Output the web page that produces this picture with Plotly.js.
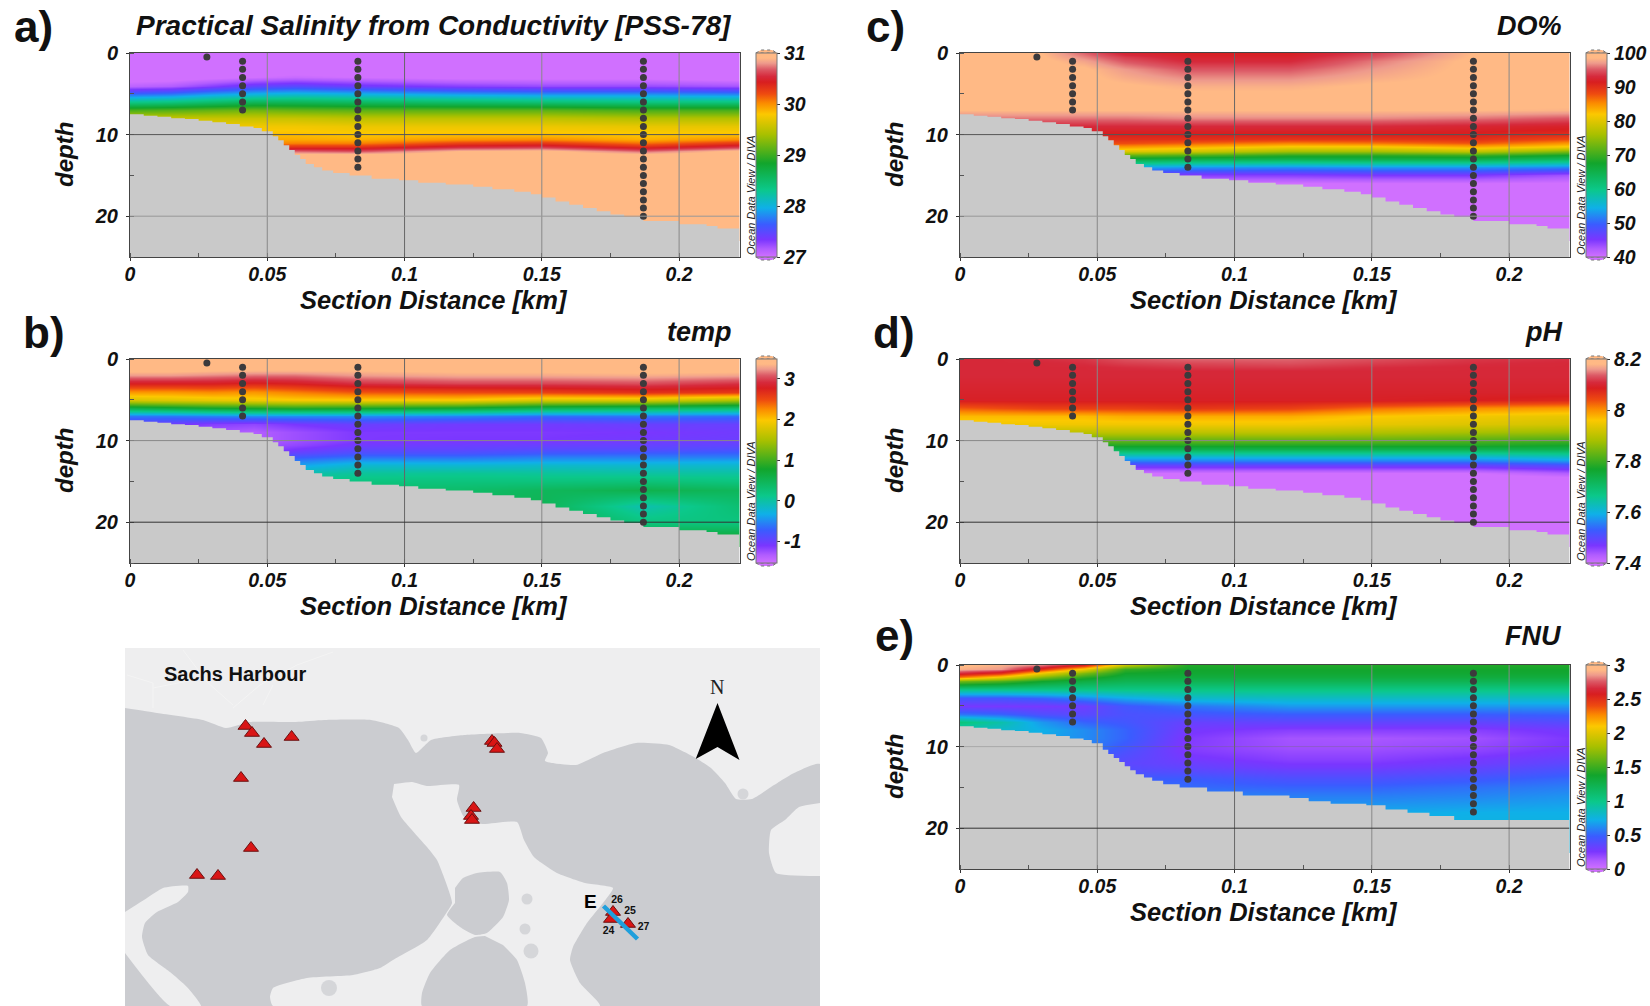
<!DOCTYPE html>
<html><head><meta charset="utf-8">
<script src="https://cdn.plot.ly/plotly-3.0.1.min.js"></script>
<style>html,body{margin:0;padding:0;background:#fff}#chart{width:1650px;height:1006px}</style>
</head><body><div id="chart"></div>
<script>
const distances=[0,0.015,0.03,0.045,0.06,0.083,0.12,0.15,0.187,0.222];
const depths=[0,0.5,1,1.5,2,3,4,5,6,7,8,9,10,10.5,11,11.5,12,12.5,13,14,15,16,18,20,22];
const salinity=[
[26.9,26.9,26.9,26.9,26.9,26.9,26.9,26.9,26.9,26.9],
[26.9,26.9,26.9,26.9,26.9,26.9,26.9,26.9,26.9,26.9],
[26.9,26.9,26.9,26.9,26.9,26.9,26.9,26.9,26.9,26.9],
[26.9,26.9,26.9,26.9,26.9,26.9,26.9,26.9,26.9,26.9],
[26.9,26.9,26.9,26.9,26.9,26.9,26.9,26.9,26.9,26.9],
[26.9,26.9,26.95,27,27.05,27,26.95,26.95,26.95,26.9],
[27.1,27.15,27.3,27.45,27.5,27.4,27.3,27.25,27.25,27.2],
[27.7,27.75,27.9,28,28.05,28,27.9,27.85,27.85,27.8],
[28.35,28.4,28.5,28.6,28.6,28.55,28.5,28.45,28.4,28.4],
[29.05,29.1,29.15,29.2,29.15,29.12,29.12,29.12,29.05,29.05],
[29.55,29.55,29.55,29.55,29.55,29.5,29.5,29.5,29.45,29.45],
[29.75,29.75,29.75,29.75,29.75,29.72,29.72,29.72,29.7,29.7],
[29.85,29.85,29.85,29.85,29.85,29.82,29.85,29.85,29.82,29.85],
[29.92,29.92,29.92,29.92,29.9,29.88,29.97,30,29.88,30],
[30,30,30,30,30.05,30.05,30.25,30.3,30.1,30.3],
[30.3,30.3,30.3,30.3,30.35,30.35,30.55,30.6,30.38,30.6],
[30.7,30.7,30.7,30.7,30.7,30.65,30.9,30.95,30.7,30.95],
[30.98,30.98,30.98,30.98,30.98,30.98,31,31,30.98,31],
[31.1,31.1,31.1,31.1,31.1,31.1,31.1,31.1,31.1,31.1],
[31.1,31.1,31.1,31.1,31.1,31.1,31.1,31.1,31.1,31.1],
[31.1,31.1,31.1,31.1,31.1,31.1,31.1,31.1,31.1,31.1],
[31.1,31.1,31.1,31.1,31.1,31.1,31.1,31.1,31.1,31.1],
[31.1,31.1,31.1,31.1,31.1,31.1,31.1,31.1,31.1,31.1],
[31.1,31.1,31.1,31.1,31.1,31.1,31.1,31.1,31.1,31.1],
[31.1,31.1,31.1,31.1,31.1,31.1,31.1,31.1,31.1,31.1]];
const temp=[
[3.45,3.45,3.45,3.45,3.45,3.45,3.45,3.45,3.45,3.45],
[3.45,3.45,3.45,3.45,3.45,3.45,3.45,3.45,3.45,3.45],
[3.42,3.42,3.42,3.42,3.42,3.4,3.42,3.42,3.42,3.42],
[3.38,3.38,3.35,3.33,3.33,3.35,3.38,3.38,3.4,3.38],
[3.25,3.25,3.2,3.15,3.15,3.25,3.3,3.3,3.32,3.28],
[2.8,2.8,2.8,2.75,2.8,2.95,3.02,3.02,3.05,2.95],
[2.2,2.2,2.25,2.2,2.3,2.45,2.5,2.55,2.65,2.6],
[1.75,1.8,1.85,1.9,1.95,1.95,1.95,1.75,1.75,1.5],
[0.55,0.65,0.75,0.8,0.85,0.8,0.7,0.5,0.4,0.3],
[-0.6,-0.6,-0.55,-0.5,-0.5,-0.5,-0.55,-0.65,-0.6,-0.65],
[-1,-1.05,-1.15,-1.2,-1.1,-1,-1.05,-1.05,-1,-1],
[-1.15,-1.2,-1.3,-1.35,-1.25,-1.12,-1.12,-1.12,-1.1,-1.05],
[-1.15,-1.2,-1.3,-1.35,-1.25,-1.12,-1.1,-1.1,-1.05,-1.02],
[-1.15,-1.15,-1.25,-1.3,-1.2,-1.05,-1.02,-1,-0.98,-0.95],
[-1.1,-1.1,-1.2,-1.25,-1.1,-0.95,-0.95,-0.9,-0.9,-0.85],
[-1,-1,-1.1,-1.15,-0.95,-0.82,-0.82,-0.75,-0.72,-0.7],
[-0.9,-0.9,-1,-1,-0.75,-0.62,-0.62,-0.55,-0.55,-0.55],
[-0.8,-0.8,-0.9,-0.9,-0.55,-0.4,-0.42,-0.38,-0.38,-0.35],
[-0.7,-0.7,-0.7,-0.7,-0.4,-0.2,-0.22,-0.18,-0.2,-0.2],
[-0.3,-0.3,-0.3,-0.3,-0.05,0.05,0.08,0.05,0.02,0.02],
[0.1,0.1,0.1,0.1,0.15,0.2,0.22,0.22,0.25,0.2],
[0.4,0.4,0.4,0.4,0.4,0.35,0.35,0.45,0.55,0.45],
[0.5,0.5,0.5,0.5,0.5,0.5,0.5,0.5,-0.05,0.3],
[0.5,0.5,0.5,0.5,0.5,0.5,0.6,0.6,0.2,0.2],
[0.7,0.7,0.7,0.7,0.7,0.7,0.7,0.7,0.75,0.75]];
const oxygen=[
[99,99,98.5,95.5,92.5,91.5,91.5,94,98.5,99],
[99,99,98.7,96.5,94,92.3,92.3,95,98.7,99],
[99,99,99,97.5,95,93,93,96,99,99],
[99,99,99,98.2,96,94,94,96.5,99,99],
[99,99,99,98.8,97,95,95,97,99,99],
[99,99,99,99,97.8,96.5,96.5,97.8,99,99],
[99,99,99,99,98.8,98,98,98.8,99,99],
[99,99,99,99,99,98.8,98.8,99,99,99],
[99,99,99,99,99,99,99,99,99,99],
[98.5,98.5,98.5,98.5,98.5,98.5,98.5,98.5,98.5,98.2],
[96,96,96,96,96,96.5,96.5,96.5,96,95],
[93,93,93,93,93,93,93,93,92.5,92],
[91,91,91,91,91,91,91,91,91,90],
[90,90,90,90,90,90,89.5,89.5,90,88],
[88,88,88,88,88,87,85.5,86,87.5,84.5],
[84,84,84,84,84,83,81,81,83,81],
[80,80,80,80,80,79,76,76,78,74],
[72,72,72,72,72,71,69,69,70,67.5],
[66,66,66,66,66,65,64.5,65,65,63],
[54,54,54,54,54,53,52.5,53,53,52],
[45,45,45,45,45,44.5,44.5,45,45,43],
[39.5,39.5,39.5,39.5,39.5,39.5,39.5,39.5,39.5,39.5],
[39,39,39,39,39,39,39,39,39,39],
[39,39,39,39,39,39,39,39,39,39],
[39,39,39,39,39,39,39,39,39,39]];
const ph=[
[8.105,8.105,8.11,8.115,8.13,8.14,8.14,8.13,8.115,8.11],
[8.105,8.105,8.105,8.11,8.12,8.125,8.13,8.12,8.11,8.105],
[8.105,8.105,8.105,8.105,8.11,8.115,8.118,8.11,8.105,8.105],
[8.105,8.105,8.105,8.105,8.105,8.105,8.105,8.105,8.105,8.105],
[8.105,8.105,8.105,8.105,8.105,8.105,8.105,8.105,8.105,8.105],
[8.1,8.1,8.1,8.1,8.1,8.1,8.1,8.1,8.1,8.1],
[8.095,8.095,8.095,8.095,8.095,8.095,8.095,8.095,8.095,8.095],
[8.09,8.09,8.09,8.09,8.09,8.09,8.09,8.09,8.085,8.075],
[8.03,8.04,8.05,8.05,8.05,8.06,8.05,8.02,8,7.99],
[7.97,7.97,7.97,7.97,7.98,7.98,7.98,7.96,7.95,7.94],
[7.95,7.95,7.95,7.95,7.95,7.95,7.95,7.94,7.93,7.92],
[7.9,7.9,7.9,7.9,7.9,7.9,7.9,7.89,7.88,7.87],
[7.82,7.82,7.82,7.82,7.82,7.82,7.82,7.82,7.81,7.8],
[7.78,7.78,7.78,7.78,7.78,7.78,7.78,7.78,7.78,7.77],
[7.73,7.73,7.73,7.73,7.73,7.73,7.73,7.73,7.73,7.73],
[7.66,7.66,7.66,7.66,7.66,7.66,7.66,7.66,7.66,7.67],
[7.6,7.6,7.6,7.6,7.6,7.6,7.6,7.6,7.6,7.62],
[7.55,7.55,7.55,7.55,7.55,7.55,7.55,7.55,7.55,7.57],
[7.49,7.49,7.49,7.49,7.49,7.49,7.49,7.49,7.49,7.51],
[7.4,7.4,7.4,7.4,7.4,7.4,7.4,7.4,7.4,7.43],
[7.37,7.37,7.37,7.37,7.37,7.37,7.37,7.37,7.37,7.37],
[7.37,7.37,7.37,7.37,7.37,7.37,7.37,7.37,7.37,7.37],
[7.37,7.37,7.37,7.37,7.37,7.37,7.37,7.37,7.37,7.37],
[7.37,7.37,7.37,7.37,7.37,7.37,7.37,7.37,7.37,7.37],
[7.37,7.37,7.37,7.37,7.37,7.37,7.37,7.37,7.37,7.37]];
const turbidity=[
[2.95,2.9,2.8,2.55,1.9,1.42,1.42,1.42,1.42,1.42],
[2.9,2.85,2.5,2.05,1.48,1.38,1.38,1.38,1.38,1.38],
[2.65,2.5,2.05,1.68,1.38,1.35,1.35,1.35,1.35,1.35],
[2.3,2.05,1.7,1.45,1.3,1.3,1.3,1.3,1.3,1.3],
[1.65,1.55,1.38,1.28,1.22,1.22,1.22,1.22,1.22,1.22],
[1.02,1.02,1.02,1.02,1.02,1.02,1.02,1.02,1.02,1.02],
[0.45,0.45,0.5,0.6,0.7,0.8,0.82,0.82,0.82,0.82],
[0.27,0.27,0.27,0.3,0.45,0.55,0.65,0.65,0.65,0.65],
[0.55,0.5,0.4,0.36,0.42,0.44,0.48,0.48,0.48,0.5],
[1.05,0.9,0.65,0.5,0.45,0.32,0.34,0.34,0.34,0.38],
[0.85,0.8,0.72,0.62,0.5,0.27,0.22,0.22,0.22,0.28],
[0.8,0.8,0.7,0.62,0.5,0.24,0.15,0.14,0.16,0.25],
[0.8,0.8,0.65,0.6,0.45,0.23,0.16,0.16,0.19,0.26],
[0.75,0.75,0.62,0.55,0.42,0.24,0.18,0.18,0.21,0.28],
[0.7,0.7,0.6,0.5,0.4,0.26,0.2,0.2,0.24,0.3],
[0.6,0.6,0.55,0.45,0.38,0.28,0.22,0.22,0.27,0.33],
[0.55,0.55,0.5,0.42,0.36,0.31,0.25,0.25,0.29,0.36],
[0.5,0.5,0.48,0.42,0.38,0.34,0.28,0.28,0.33,0.4],
[0.5,0.5,0.48,0.45,0.4,0.38,0.33,0.33,0.37,0.44],
[0.5,0.5,0.5,0.5,0.48,0.48,0.42,0.42,0.46,0.52],
[0.55,0.55,0.55,0.55,0.55,0.52,0.5,0.5,0.54,0.58],
[0.6,0.6,0.6,0.6,0.6,0.6,0.58,0.58,0.6,0.64],
[0.7,0.7,0.7,0.7,0.7,0.7,0.7,0.7,0.72,0.72],
[0.75,0.75,0.75,0.75,0.75,0.75,0.75,0.75,0.75,0.75],
[0.75,0.75,0.75,0.75,0.75,0.75,0.75,0.75,0.75,0.75]];

const seabedX=[0,.005,.01,.015,.02,.025,.03,.035,.04,.045,.048,.052,.054,.056,.058,.06,.062,.064,.067,.07,.074,.08,.088,.098,.105,.115,.125,.132,.14,.146,.15,.155,.16,.165,.17,.175,.18,.187,.2,.21,.214,.222];
const seabedZ=[7.5,7.7,7.8,8,8.1,8.3,8.5,8.7,9,9.2,9.6,10.2,10.7,11.3,11.9,12.5,13,13.6,14,14.4,14.7,15,15.4,15.6,15.9,16.1,16.4,16.7,17,17.3,17.7,18.2,18.6,19,19.4,19.8,20.1,20.6,21,21.2,21.5,21.5];
const seabedFnuX=[0,.005,.01,.015,.02,.025,.03,.035,.04,.045,.048,.052,.054,.056,.058,.06,.062,.064,.067,.07,.074,.08,.09,.103,.12,.127,.135,.148,.155,.163,.171,.18,.222];
const seabedFnuZ=[7.5,7.7,7.8,8,8.1,8.3,8.5,8.7,9,9.2,9.6,10.4,10.9,11.4,11.9,12.4,12.9,13.4,13.8,14.2,14.6,15,15.5,16,16.3,16.7,17,17.2,17.7,18.1,18.5,19,19];

const stationX=[0.028,0.041,0.041,0.041,0.041,0.041,0.041,0.041,0.083,0.083,0.083,0.083,0.083,0.083,0.083,0.083,0.083,0.083,0.083,0.083,0.083,0.083,0.187,0.187,0.187,0.187,0.187,0.187,0.187,0.187,0.187,0.187,0.187,0.187,0.187,0.187,0.187,0.187,0.187,0.187];
const stationZ=[0.5,1,2,3,4,5,6,7,1,2,3,4,5,6,7,8,9,10,11,12,13,14,1,2,3,4,5,6,7,8,9,10,11,12,13,14,15,16,17,18];
const stationDeepX=[0.187,0.187];
const stationDeepZ=[19,20];

const rainbow=[[0,'#d070ff'],[0.04,'#b05cff'],[0.085,'#7a36ff'],[0.16,'#3a5cff'],[0.24,'#0fb0e8'],[0.33,'#0bc88a'],[0.46,'#12a52c'],[0.6,'#a8c000'],[0.7,'#fcc800'],[0.755,'#fb8a00'],[0.8,'#ee4a10'],[0.857,'#d81e20'],[0.885,'#d62a3c'],[0.92,'#dc5a66'],[0.95,'#ee9a8c'],[0.975,'#ffb985'],[1,'#ffb985']];

const panels=[
 {z:salinity,zmin:27,zmax:31,ticks:[27,28,29,30,31],left:130,top:53,label:'a)',lx:12,ly:27,title:'Practical Salinity from Conductivity [PSS-78]',tx:734,ty:26,deep:true,sx:seabedX,sz:seabedZ,grid:{10:'#555',20:'#999'}},
 {z:temp,zmin:-1.53,zmax:3.49,ticks:[-1,0,1,2,3],left:130,top:359,label:'b)',lx:21,ly:333,title:'temp',tx:734,ty:332,deep:true,sx:seabedX,sz:seabedZ,grid:{10:'#888',20:'#333'}},
 {z:oxygen,zmin:40,zmax:100,ticks:[40,50,60,70,80,90,100],left:960,top:53,label:'c)',lx:864,ly:27,title:'DO%',tx:1564,ty:26,deep:true,sx:seabedX,sz:seabedZ,grid:{10:'#555',20:'#999'}},
 {z:ph,zmin:7.4,zmax:8.2,ticks:[7.4,7.6,7.8,8,8.2],left:960,top:359,label:'d)',lx:871,ly:333,title:'pH',tx:1564,ty:332,deep:true,sx:seabedX,sz:seabedZ,grid:{10:'#888',20:'#333'}},
 {z:turbidity,zmin:0,zmax:3,ticks:[0,0.5,1,1.5,2,2.5,3],left:960,top:665,label:'e)',lx:873,ly:635,title:'FNU',tx:1564,ty:636,deep:false,sx:seabedFnuX,sz:seabedFnuZ,grid:{10:'rgba(110,110,110,0.35)',20:'#333'}}
];
const W=1650,H=1006,PW=609.5,PH=204;
const FONT='"Liberation Sans", Arial, sans-serif';
const bi=(s,c)=>({family:FONT,size:s,color:c||'#111',weight:'bold',style:'italic'});

const mapGrayX=[125,157,203,226,250,296,324,371,399,408,416,431,464,520,541,548,545,576,603,636,669,694,711,725,736,752,771,794,820,820,125];
const mapGrayY=[708,713,720,728,722,722,720,720,728,740,753,740,735,733,738,753,761,765,753,743,745,757,768,783,799,799,787,773,764,1006,1006];
const channelX=[394,412,427,459,457,464,482,517,524,534,557,585,613,603,587,573,570,580,600,273,270,273,307,353,380,393,427,445,452,445,437,427,401,392];
const channelY=[784,782,786,785,800,817,824,822,840,857,873,883,888,903,923,947,960,983,1006,1006,997,988,978,975,968,960,940,915,903,880,860,847,817,797];
const inletX=[125,147,163,188,188,178,157,145,142,148,170,187,201,170,125];
const inletY=[912,898,888,886,892,902,912,923,937,955,972,987,1006,1006,953];
const bayX=[820,799,785,771,769,776,820];
const bayY=[803,807,820,830,853,873,876];
const island1X=[455,463,477,500,507,509,503,487,475,460,447,455];
const island1Y=[888,878,873,872,883,900,917,933,935,927,915,903];
const island2X=[485,475,450,430,422,422,527,525,517,503];
const island2Y=[936,937,950,973,993,1006,1006,983,960,945];
const blobX=[527,525,531,329,743,424];
const blobY=[899,929,951,988,794,738];
const blobSize=[11,11,15,16,11,7];
const roadX=[[127,153,153],[153,203],[183,207,233],[233,260,297,333],[263,273]];
const roadY=[[675,683,708],[688,678],[650,682,705],[708,685,665,652],[705,685]];
const siteX=[245.5,252,264,291.6,241,251,197,218,492,494.5,497,473.6,471,472,613,611,628];
const siteY=[726,733,744,737,778,848,875,876,741,743,749,808,816,820,912,919,924];
const transectX=[603.5,637.5];
const transectY=[906,939];
const arrowX=[717.5,739.5,717.5,695.7,717.5];
const arrowY=[703,760,747,759,703];
const stationNames=['26','25','27','24'];
const nameX=[617,630,643.5,608.6];
const nameY=[900.7,911,927,931];

const traces=[],shapes=[],annotations=[],layout={};
panels.forEach((p,i)=>{
  const n=i+1,xa='x'+n,ya='y'+n;
  traces.push({type:'heatmap',x:distances,y:depths,z:p.z,xaxis:xa,yaxis:ya,zmin:p.zmin,zmax:p.zmax,zsmooth:'best',colorscale:rainbow,hoverinfo:'skip',
    colorbar:{xref:'container',yref:'container',x:(p.left+626)/W,xanchor:'left',y:1-(p.top+PH/2)/H,yanchor:'middle',lenmode:'pixels',len:PH,thicknessmode:'pixels',thickness:21,xpad:0,ypad:0,
      outlinecolor:'#777',outlinewidth:1,tickmode:'array',tickvals:p.ticks,ticktext:p.ticks.map(String),ticks:'outside',ticklen:3,tickcolor:'#333',tickfont:bi(19.5),borderwidth:0}});
  traces.push({type:'scatter',mode:'lines',x:p.sx.concat([0.222,0]),y:p.sz.concat([25,25]),xaxis:xa,yaxis:ya,line:{shape:'hv',width:0},fill:'toself',fillcolor:'#c9c9c9',hoverinfo:'skip',showlegend:false});
  traces.push({type:'scatter',mode:'markers',x:p.deep?stationX.concat(stationDeepX):stationX,y:p.deep?stationZ.concat(stationDeepZ):stationZ,xaxis:xa,yaxis:ya,marker:{size:7,color:'#3c3a3c'},showlegend:false});
  layout['xaxis'+(n>1?n:'')]={anchor:ya,domain:[p.left/W,(p.left+PW)/W],range:[0,0.222],tickmode:'array',tickvals:[0,0.05,0.1,0.15,0.2],ticktext:['0','0.05','0.1','0.15','0.2'],ticks:'outside',ticklen:3,tickcolor:'#333',
    tickfont:bi(19.5),ticklabelstandoff:-3,showgrid:false,zeroline:false,showline:true,mirror:true,linecolor:'#444',linewidth:1,layer:'above traces',minor:{ticks:'inside',ticklen:4,tickcolor:'#555',dtick:0.025,tick0:0,showgrid:false}};
  layout['yaxis'+(n>1?n:'')]={anchor:xa,domain:[1-(p.top+PH)/H,1-p.top/H],range:[25,0],tickmode:'array',tickvals:[0,10,20],ticktext:['0','10','20'],ticks:'outside',ticklen:3,tickcolor:'#333',
    tickfont:bi(20),ticklabelstandoff:4,showgrid:false,zeroline:false,showline:true,mirror:true,linecolor:'#444',linewidth:1,layer:'above traces',minor:{ticks:'inside',ticklen:4,tickcolor:'#555',dtick:5,tick0:0,showgrid:false}};
  annotations.push({xref:'paper',yref:'paper',x:(p.left+304)/W,y:1-(p.top+PH+43)/H,xanchor:'center',yanchor:'middle',borderpad:0,text:'Section Distance [km]',showarrow:false,font:bi(25.5)});
  annotations.push({xref:'paper',yref:'paper',x:(p.left-66)/W,y:1-(p.top+PH/2)/H,xanchor:'center',yanchor:'middle',textangle:-90,text:'depth',showarrow:false,font:bi(24)});
  [0.05,0.1,0.15,0.2].forEach(v=>shapes.push({type:'line',layer:'above',xref:xa,yref:ya,x0:v,x1:v,y0:0,y1:25,line:{width:1,color:v===0.1?'#666':'#888'}}));
  [10,20].forEach(v=>shapes.push({type:'line',layer:'above',xref:xa,yref:ya,x0:0,x1:0.222,y0:v,y1:v,line:{width:1,color:p.grid[v]}}));
  annotations.push({xref:'paper',yref:'paper',x:p.lx/W,y:1-p.ly/H,xanchor:'left',yanchor:'middle',text:p.label,showarrow:false,font:{family:FONT,size:44,color:'#111',weight:'bold'}});
  annotations.push({xref:'paper',yref:'paper',x:p.tx/W,y:1-p.ty/H,xanchor:'right',yanchor:'middle',text:p.title,showarrow:false,font:bi(i===0?28:27)});
  annotations.push({xref:'paper',yref:'paper',x:(p.left+621)/W,y:1-(p.top+142)/H,xanchor:'center',yanchor:'middle',textangle:-90,text:'Ocean Data View / DIVA',showarrow:false,font:{family:FONT,size:11,style:'italic',color:'#222'}});
  const cx0=p.left+626,cx1=cx0+21,ct=p.top,cb=p.top+PH;
  const toX=v=>v/W,toY=v=>1-v/H;
  shapes.push({type:'path',xref:'paper',yref:'paper',layer:'above',fillcolor:'#ffb985',line:{width:1,color:'#777',dash:'dot'},path:`M${toX(cx0)},${toY(ct)} L${toX(cx0+5)},${toY(ct-3)} L${toX(cx1-5)},${toY(ct-3)} L${toX(cx1)},${toY(ct)} Z`});
  shapes.push({type:'path',xref:'paper',yref:'paper',layer:'above',fillcolor:'#d070ff',line:{width:1,color:'#777',dash:'dot'},path:`M${toX(cx0)},${toY(cb)} L${toX(cx0+5)},${toY(cb+3)} L${toX(cx1-5)},${toY(cb+3)} L${toX(cx1)},${toY(cb)} Z`});
});

const mapAxes={xaxis:'x6',yaxis:'y6',hoverinfo:'skip',showlegend:false};
const LAND='#eeeeef',SEA='#cbccd0';
const poly=(x,y,c)=>Object.assign({type:'scatter',mode:'lines',x:x,y:y,fill:'toself',fillcolor:c,line:{width:0,shape:'spline',smoothing:0.5}},mapAxes);
roadX.forEach((rx,i)=>traces.push(Object.assign({type:'scatter',mode:'lines',x:rx,y:roadY[i],line:{width:1,color:'#f4f4f4'}},mapAxes)));
traces.push(poly(mapGrayX,mapGrayY,SEA));
traces.push(poly(channelX,channelY,LAND));
traces.push(poly(inletX,inletY,LAND));
traces.push(poly(bayX,bayY,LAND));
traces.push(poly(island1X,island1Y,SEA));
traces.push(poly(island2X,island2Y,SEA));
traces.push(Object.assign({type:'scatter',mode:'markers',x:blobX,y:blobY,marker:{size:blobSize,color:SEA,line:{width:0}}},mapAxes));
traces.push(Object.assign({type:'scatter',mode:'markers',x:siteX,y:siteY,marker:{symbol:'triangle-up',size:13,color:'#d91515',line:{width:1,color:'#6a1010'}}},mapAxes));
traces.push(Object.assign({type:'scatter',mode:'lines',x:transectX,y:transectY,line:{width:4.5,color:'#1f9fdc'}},mapAxes));
traces.push(Object.assign({type:'scatter',mode:'lines',x:arrowX,y:arrowY,fill:'toself',fillcolor:'#000',line:{width:0}},mapAxes));
traces.push(Object.assign({type:'scatter',mode:'text',x:nameX,y:nameY,text:stationNames,textposition:'middle center',textfont:{family:FONT,size:10.5,color:'#111',weight:'bold'}},mapAxes));
layout.xaxis6={domain:[125/W,820/W],range:[125,820],visible:false,anchor:'y6',fixedrange:true};
layout.yaxis6={domain:[0,1-648/H],range:[1006,648],visible:false,anchor:'x6',fixedrange:true};
annotations.push({xref:'x6',yref:'y6',x:162,y:674,xanchor:'left',yanchor:'middle',text:'Sachs Harbour',showarrow:false,font:{family:FONT,size:20,color:'#111',weight:'bold'}});
annotations.push({xref:'x6',yref:'y6',x:590,y:901,xanchor:'center',yanchor:'middle',text:'E',showarrow:false,font:{family:FONT,size:19,color:'#000',weight:'bold'}});
annotations.push({xref:'x6',yref:'y6',x:717,y:687,xanchor:'center',yanchor:'middle',text:'N',showarrow:false,font:{family:'"Liberation Serif", serif',size:20,color:'#222'}});

Object.assign(layout,{width:W,height:H,margin:{l:0,r:0,t:0,b:0,autoexpand:false},paper_bgcolor:'#fff',plot_bgcolor:LAND,showlegend:false,shapes,annotations});
Plotly.newPlot('chart',traces,layout,{displayModeBar:false,staticPlot:true});
</script></body></html>
